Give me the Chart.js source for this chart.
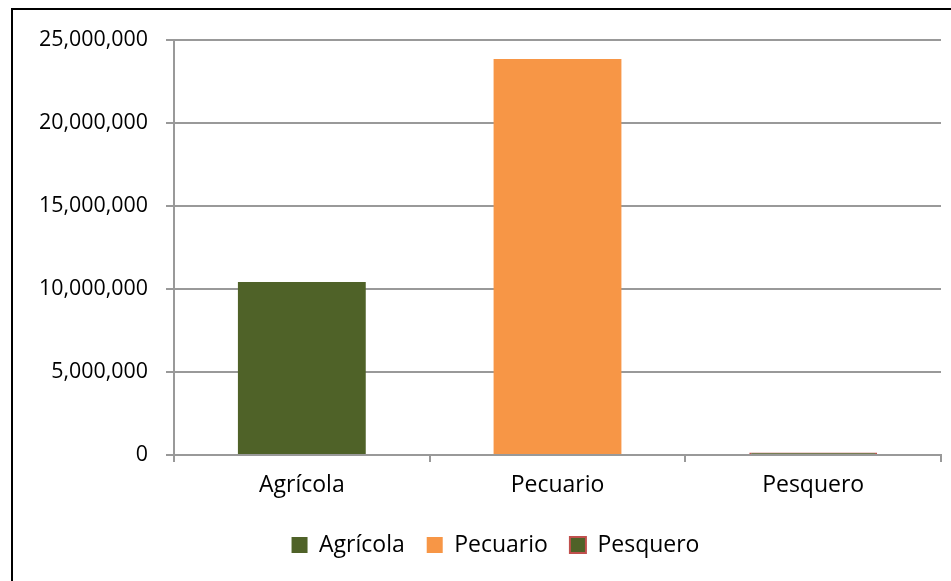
<!DOCTYPE html>
<html>
<head>
<meta charset="utf-8">
<script src="https://cdn.jsdelivr.net/npm/chart.js@4/dist/chart.umd.min.js"></script>
<style>
  html, body { margin: 0; padding: 0; background: #fff; }
  #wrap { position: relative; width: 951px; height: 581px; overflow: hidden; }
  #frame { position: absolute; left: 11px; top: 8px; width: 1000px; height: 1000px;
           border-left: 2px solid #000; border-top: 2px solid #000; }
  #myChart { position: absolute; left: 0; top: 0; }
</style>
</head>
<body>
<div id="wrap">
  <div id="frame"></div>
  <canvas id="myChart" width="951" height="581"></canvas>
</div>
<script>
// categorias y valores por sector
var sectores = ['Agrícola', 'Pecuario', 'Pesquero'];
var valores = [10420000, 23850000, 150000];
var relleno = ['#4f6228', '#f79646', '#4f6228'];
var borde = ['#4f6228', '#f79646', '#c0504d'];
var ticksY = [0, 5000000, 10000000, 15000000, 20000000, 25000000];

var fuente = "'Open Sans', sans-serif";
Chart.defaults.font.family = fuente;
Chart.defaults.color = '#000';

// un dataset por sector para que la leyenda muestre los tres
var datasets = [];
for (let i = 0; i < sectores.length; i++) {
	let d = sectores.map(function(s, j){ return j == i ? valores[i] : null; });
	datasets.push({
		label: sectores[i],
		data: d,
		backgroundColor: relleno[i],
		borderColor: borde[i],
		borderWidth: i == 2 ? 2 : 0,
		grouped: false,
		barPercentage: 0.5,
		categoryPercentage: 1
	});
}

// mueve la leyenda un poco a la derecha
const moverLeyenda = {
	id: 'moverLeyenda',
	afterLayout: function(chart){
		chart.legend.left += 15;
		chart.legend.right += 15;
	}
};

const ctx = document.getElementById('myChart');
var grafico = new Chart(ctx, {
	type: 'bar',
	data: { labels: sectores, datasets: datasets },
	plugins: [moverLeyenda],
	options: {
		responsive: false,
		animation: false,
		layout: { padding: { left: 20, right: 10, top: 40, bottom: 14.5 } },
		plugins: {
			tooltip: { enabled: false },
			legend: {
				position: 'bottom',
				labels: {
					boxWidth: 16,
					boxHeight: 16,
					padding: 22,
					font: { size: 23 },
					color: '#000'
				}
			}
		},
		scales: {
			x: {
				grid: { drawOnChartArea: false, drawTicks: true, tickLength: 7, color: '#999', lineWidth: 2 },
				border: { color: '#999', width: 2 },
				ticks: { padding: 10, font: { size: 23 }, color: '#000' },
				afterFit: function(s){ s.height = 56.5; }
			},
			y: {
				min: 0,
				max: 25000000,
				grid: { color: '#999', lineWidth: 2, tickLength: 8 },
				border: { color: '#999', width: 2 },
				afterBuildTicks: function(s){ s.ticks = ticksY.map(function(v){ return { value: v }; }); },
				ticks: {
					padding: 18,
					font: { size: 21.4 },
					color: '#000',
					callback: function(v){ return Number(v).toLocaleString('en-US'); }
				},
				afterFit: function(s){ s.width = 154; }
			}
		}
	}
});
</script>
</body>
</html>
